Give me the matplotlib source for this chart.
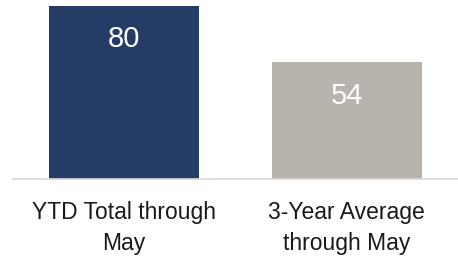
import matplotlib
matplotlib.use("Agg")
import matplotlib.pyplot as plt

# chart data
categories = ["YTD Total through\nMay", "3-Year Average\nthrough May"]
values = [80, 54]
bar_colors = ["#253D66", "#B8B3AD"]

plt.rcParams["font.family"] = ["Liberation Sans", "DejaVu Sans"]

fig = plt.figure(figsize=(4.58, 2.58), dpi=100)
ax = fig.add_axes([13 / 458, 79 / 258, 445 / 458, 179 / 258])

x = list(range(len(categories)))
ax.bar(x, values, width=0.676, color=bar_colors)

for xi, v in zip(x, values):
    ax.annotate(str(v), (xi, v), xytext=(0, -24), textcoords="offset points",
                ha="center", va="center", color="white", fontsize=21)

ax.set_xlim(-0.5, 1.5)
ax.set_ylim(0, 80 * 179 / 173)
ax.set_xticks(x)
ax.set_xticklabels(categories, fontsize=16.5, color="#1a1a1a", linespacing=1.45)
ax.tick_params(axis="x", length=0, pad=16)
ax.set_yticks([])
for side in ["left", "right", "top"]:
    ax.spines[side].set_visible(False)
ax.spines["bottom"].set_color("#D9D9D9")
ax.spines["bottom"].set_linewidth(1.2)

fig.savefig("out.png", dpi=100)
